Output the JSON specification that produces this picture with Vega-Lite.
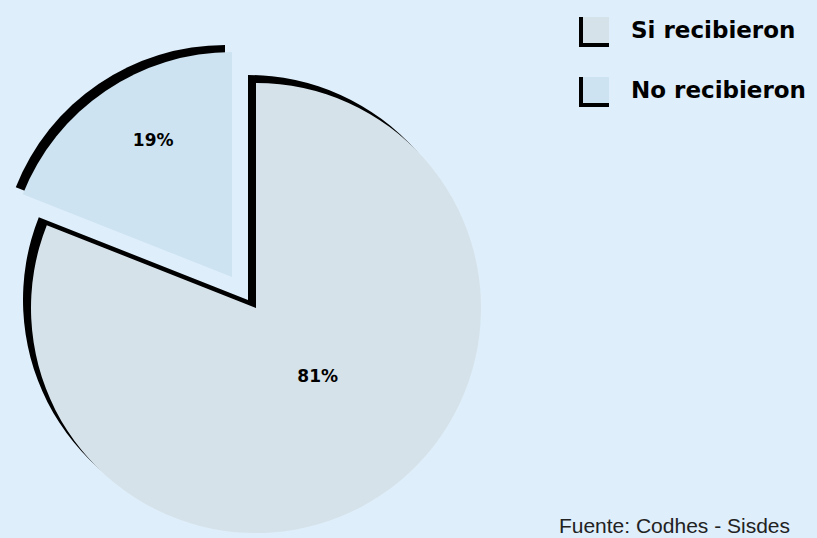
{
  "$schema": "https://vega.github.io/schema/vega-lite/v6.json",
  "width": 512,
  "height": 460,
  "autosize": "none",
  "padding": {"left": 0, "top": 78, "right": 305, "bottom": 0},
  "background": "#deeefa",
  "config": {"view": {"stroke": null}},
  "data": {"values": [
    {"categoria": "Si recibieron", "pct": 0.81},
    {"categoria": "No recibieron", "pct": 0.19}
  ]},
  "title": {
    "text": "Fuente: Codhes - Sisdes",
    "orient": "bottom",
    "anchor": "end",
    "frame": "group",
    "offset": -5,
    "baseline": "alphabetic",
    "dx": 278,
    "font": "Liberation Sans",
    "fontSize": 21,
    "fontWeight": "normal",
    "color": "#222222"
  },
  "encoding": {
    "theta": {"field": "pct", "type": "quantitative", "stack": true},
    "order": {"field": "pct", "sort": "descending"}
  },
  "layer": [
    {
      "mark": {"type": "arc", "outerRadius": 225, "fill": "black", "xOffset": -8, "yOffset": -8},
      "encoding": {"opacity": {"condition": {"test": "datum.categoria === 'Si recibieron'", "value": 1}, "value": 0}}
    },
    {
      "mark": {"type": "arc", "outerRadius": 225, "fill": "black", "xOffset": -31, "yOffset": -38},
      "encoding": {"opacity": {"condition": {"test": "datum.categoria === 'No recibieron'", "value": 1}, "value": 0}}
    },
    {
      "mark": {"type": "arc", "outerRadius": 225},
      "encoding": {
        "color": {
          "field": "categoria",
          "type": "nominal",
          "scale": {"domain": ["Si recibieron", "No recibieron"], "range": ["#d6e2ea", "#cde3f1"]},
          "legend": {
            "title": null,
            "orient": "none",
            "legendX": 579,
            "legendY": -63,
            "symbolType": "square",
            "symbolSize": 784,
            "symbolStrokeColor": "black",
            "symbolStrokeWidth": 4,
            "symbolDash": [56, 56],
            "symbolDashOffset": 56,
            "symbolOpacity": 1,
            "labelFont": "DejaVu Sans",
            "labelFontWeight": "bold",
            "labelFontSize": 23,
            "labelColor": "black",
            "labelOffset": 20,
            "labelLimit": 400,
            "rowPadding": 16
          }
        },
        "opacity": {"condition": {"test": "datum.categoria === 'Si recibieron'", "value": 1}, "value": 0}
      }
    },
    {
      "mark": {"type": "arc", "outerRadius": 225, "xOffset": -24, "yOffset": -31},
      "encoding": {
        "color": {"field": "categoria", "type": "nominal"},
        "opacity": {"condition": {"test": "datum.categoria === 'No recibieron'", "value": 1}, "value": 0}
      }
    },
    {
      "mark": {"type": "text", "radius": 92, "dx": 10, "dy": -7, "font": "DejaVu Sans", "fontWeight": "bold", "fontSize": 17, "color": "black"},
      "encoding": {
        "text": {"field": "pct", "type": "quantitative", "format": ".0%"},
        "opacity": {"condition": {"test": "datum.categoria === 'Si recibieron'", "value": 1}, "value": 0}
      }
    },
    {
      "mark": {"type": "text", "radius": 158, "xOffset": -24, "yOffset": -31, "dx": 10, "dy": -5, "font": "DejaVu Sans", "fontWeight": "bold", "fontSize": 17, "color": "black"},
      "encoding": {
        "text": {"field": "pct", "type": "quantitative", "format": ".0%"},
        "opacity": {"condition": {"test": "datum.categoria === 'No recibieron'", "value": 1}, "value": 0}
      }
    }
  ]
}
